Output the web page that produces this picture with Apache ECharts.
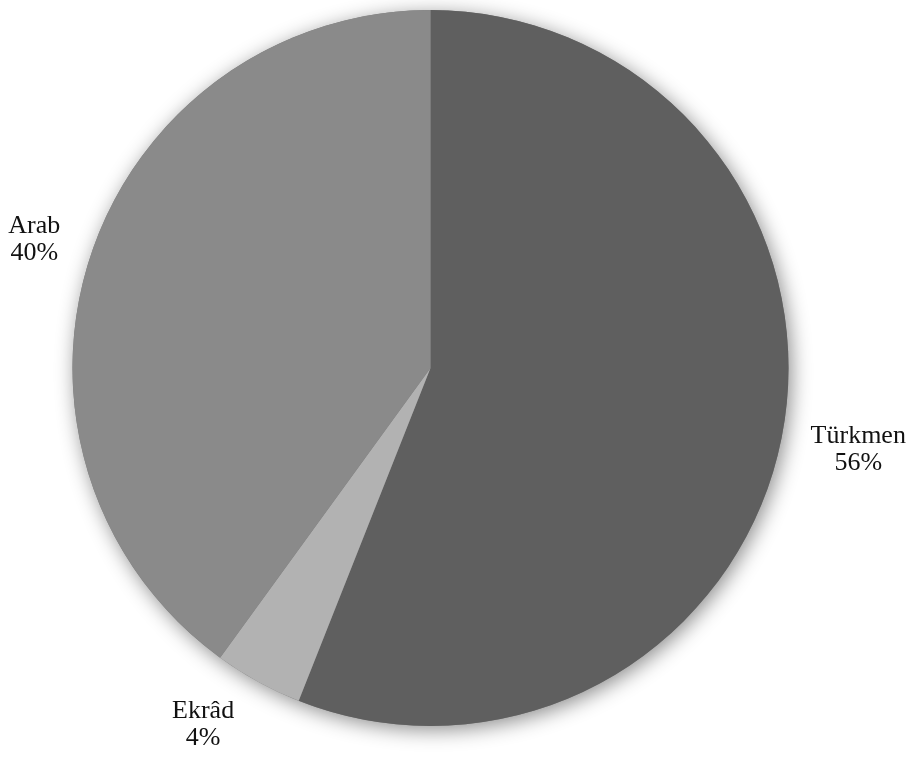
<!DOCTYPE html>
<html>
<head>
<meta charset="utf-8">
<script src="https://cdn.jsdelivr.net/npm/echarts@6/dist/echarts.min.js"></script>
<style>
html,body{margin:0;padding:0;background:#fff;}
#chart{width:914px;height:763px;}
</style>
</head>
<body>
<div id="chart"></div>
<script>
// Data
const categories = ['Türkmen', 'Ekrâd', 'Arab'];
const values = [56, 4, 40];
const sliceColors = ['#5f5f5f', '#b2b2b2', '#8a8a8a'];

// Layout
const W = 914, H = 763;
const CX = 430.5, CY = 368, R = 358;
const GAP = 26;

const total = values.reduce((a, b) => a + b, 0);

function placeLabel(idx, w, h) {
  let before = 0;
  for (let i = 0; i < idx; i++) before += values[i];
  const mid = (before + values[idx] / 2) / total * Math.PI * 2;
  const ux = Math.sin(mid), uy = -Math.cos(mid);
  const target = R + GAP;
  const dist = (x, y) => {
    const ex = Math.max(0, Math.abs(x - CX) - w / 2);
    const ey = Math.max(0, Math.abs(y - CY) - h / 2);
    return Math.hypot(ex, ey);
  };
  let lo = 0, hi = R + 500;
  for (let k = 0; k < 60; k++) {
    const m = (lo + hi) / 2;
    if (dist(CX + m * ux, CY + m * uy) < target) lo = m; else hi = m;
  }
  let x = CX + lo * ux, y = CY + lo * uy;
  const MB = 11, MS = 5;
  const solveX = (yy, sgn) => {
    const ey = Math.max(0, Math.abs(yy - CY) - h / 2);
    const ex = Math.sqrt(Math.max(0, target * target - ey * ey));
    return CX + sgn * (ex + w / 2);
  };
  if (y + h / 2 > H - MB) { y = H - MB - h / 2; x = solveX(y, ux < 0 ? -1 : 1); }
  if (y - h / 2 < MS) { y = MS + h / 2; x = solveX(y, ux < 0 ? -1 : 1); }
  if (x + w / 2 > W - MS) x = W - MS - w / 2;
  if (x - w / 2 < MS) x = MS + w / 2;
  return { x: x, y: y };
}

const chart = echarts.init(document.getElementById('chart'), null, { renderer: 'canvas' });

chart.setOption({
  backgroundColor: '#ffffff',
  animation: false,
  series: [
    {
      // backdrop disc that carries the soft drop shadow
      type: 'pie',
      silent: true,
      center: [CX, CY],
      radius: R,
      z: 1,
      label: { show: false },
      labelLine: { show: false },
      itemStyle: {
        color: '#7a7a7a',
        shadowBlur: 20,
        shadowOffsetX: 3,
        shadowOffsetY: 4,
        shadowColor: 'rgba(0,0,0,0.45)'
      },
      data: [{ value: 1, name: '' }]
    },
    {
      type: 'pie',
      center: [CX, CY],
      radius: R,
      startAngle: 90,
      clockwise: true,
      z: 2,
      avoidLabelOverlap: false,
      itemStyle: { borderWidth: 0 },
      label: {
        show: true,
        position: 'outside',
        fontFamily: '"Liberation Serif", "Times New Roman", serif',
        fontSize: 26,
        lineHeight: 27,
        color: '#111111',
        align: 'center',
        formatter: p => p.name + '\n' + Math.round(p.percent) + '%'
      },
      labelLine: { show: false },
      labelLayout: function (params) {
        const r = params.labelRect;
        const pos = placeLabel(params.dataIndex, r.width, r.height);
        return { x: pos.x, y: pos.y, align: 'center', verticalAlign: 'middle' };
      },
      data: categories.map((c, i) => ({
        name: c,
        value: values[i],
        itemStyle: { color: sliceColors[i] }
      }))
    }
  ]
});
</script>
</body>
</html>
